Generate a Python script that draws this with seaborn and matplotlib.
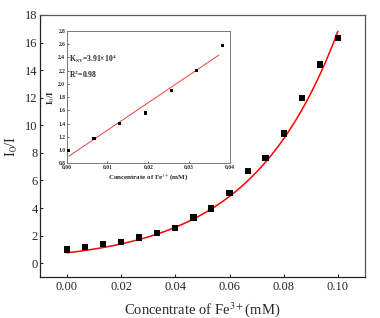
import numpy as np
import pandas as pd
import seaborn as sns
import matplotlib.pyplot as plt

# main data: I0/I vs Fe3+ concentration (mM)
conc = [0.0, 0.0067, 0.0133, 0.02, 0.0267, 0.0333, 0.04, 0.0467,
        0.0533, 0.06, 0.0667, 0.0733, 0.08, 0.0867, 0.0933, 0.1]
ratio = [0.99, 1.16, 1.38, 1.54, 1.86, 2.17, 2.56, 3.31,
         3.96, 5.09, 6.69, 7.61, 9.40, 12.0, 14.4, 16.3]

# exponential fit shown in red
fit_a = 0.75
fit_k = 31.1

# inset: linear Stern-Volmer region
ins_conc = [0.0005, 0.0067, 0.0130, 0.0193, 0.0256, 0.0319, 0.0381]
ins_ratio = [1.0, 1.176, 1.397, 1.562, 1.908, 2.20, 2.58]

sns.set_style('ticks')
plt.rcParams['font.family'] = ['Liberation Serif', 'DejaVu Serif']
plt.rcParams['mathtext.fontset'] = 'stix'

fig = plt.figure(figsize=(3.8, 3.18), dpi=100)
ax = fig.add_axes([0.105, 0.129, 0.8555, 0.824])

df = pd.DataFrame({'conc': conc, 'ratio': ratio})
xs = np.linspace(conc[0], conc[-1], 200)
df_fit = pd.DataFrame({'conc': xs, 'ratio': fit_a * np.exp(fit_k * xs)})

sns.lineplot(data=df_fit, x='conc', y='ratio', color='#ff0000', lw=1.1, ax=ax)
sns.scatterplot(data=df, x='conc', y='ratio', marker='s', color='black',
                s=20, edgecolor='none', ax=ax, zorder=3)

ax.set_xlim(-0.01, 0.11)
ax.set_ylim(-1, 18)
ax.set_xticks([0.0, 0.02, 0.04, 0.06, 0.08, 0.10])
ax.set_xticklabels(['0.00', '0.02', '0.04', '0.06', '0.08', '0.10'])
ax.set_yticks(range(0, 19, 2))
ax.tick_params(direction='in', length=2, labelsize=9, pad=1.5, width=0.8)
ax.tick_params(axis='x', pad=3)
ax.set_xlabel('Concentrate of Fe$^{3+}$(mM)', fontsize=10.5, labelpad=5)
ax.set_ylabel('I$_0$/I', fontsize=10.5, labelpad=4)
for s in ['left', 'bottom']:
    ax.spines[s].set_color('#222222')
for s in ['top', 'right']:
    ax.spines[s].set_color('#555555')
for s in ax.spines.values():
    s.set_linewidth(0.9)

# inset
axi = fig.add_axes([0.1755, 0.486, 0.4295, 0.4165])
dfi = pd.DataFrame({'conc': ins_conc, 'ratio': ins_ratio})
slope, icpt = np.polyfit(ins_conc, ins_ratio, 1)
lx = np.array([ins_conc[0], 0.0373])
dfl = pd.DataFrame({'conc': lx, 'ratio': icpt + slope * lx})
sns.lineplot(data=dfl, x='conc', y='ratio', color='#e84040', lw=0.7, ax=axi)
sns.scatterplot(data=dfi, x='conc', y='ratio', marker='s', color='black',
                s=5, edgecolor='none', ax=axi, zorder=3)
axi.set_xlim(0, 0.04)
axi.set_ylim(0.8, 2.8)
axi.set_xticks([0.0, 0.01, 0.02, 0.03, 0.04])
axi.set_xticklabels(['0.00', '0.01', '0.02', '0.03', '0.04'])
axi.set_yticks(np.arange(0.8, 2.81, 0.2))
axi.set_yticklabels(['%.1f' % v for v in np.arange(0.8, 2.81, 0.2)])
axi.tick_params(direction='in', length=1.5, labelsize=4, pad=1, width=0.5)
for lab in axi.get_xticklabels() + axi.get_yticklabels():
    lab.set_fontweight('bold')
axi.set_xlabel('Concentrate of Fe$^{3+}$(mM)', fontsize=5, fontweight='bold', labelpad=2)
axi.set_ylabel('I$_0$/I', fontsize=6.5, fontweight='bold', labelpad=1)
for s in axi.spines.values():
    s.set_color('#777777')
    s.set_linewidth(0.7)
axi.text(0.015, 0.79, 'K$_{\\mathbf{SV}}$=3.91×10$^{\\mathbf{4}}$', transform=axi.transAxes,
         fontsize=5.5, fontweight='bold', va='center')
axi.text(0.015, 0.67, 'R$^{\\mathbf{2}}$=0.98', transform=axi.transAxes,
         fontsize=5.5, fontweight='bold', va='center')

fig.savefig('out.png', dpi=100)
